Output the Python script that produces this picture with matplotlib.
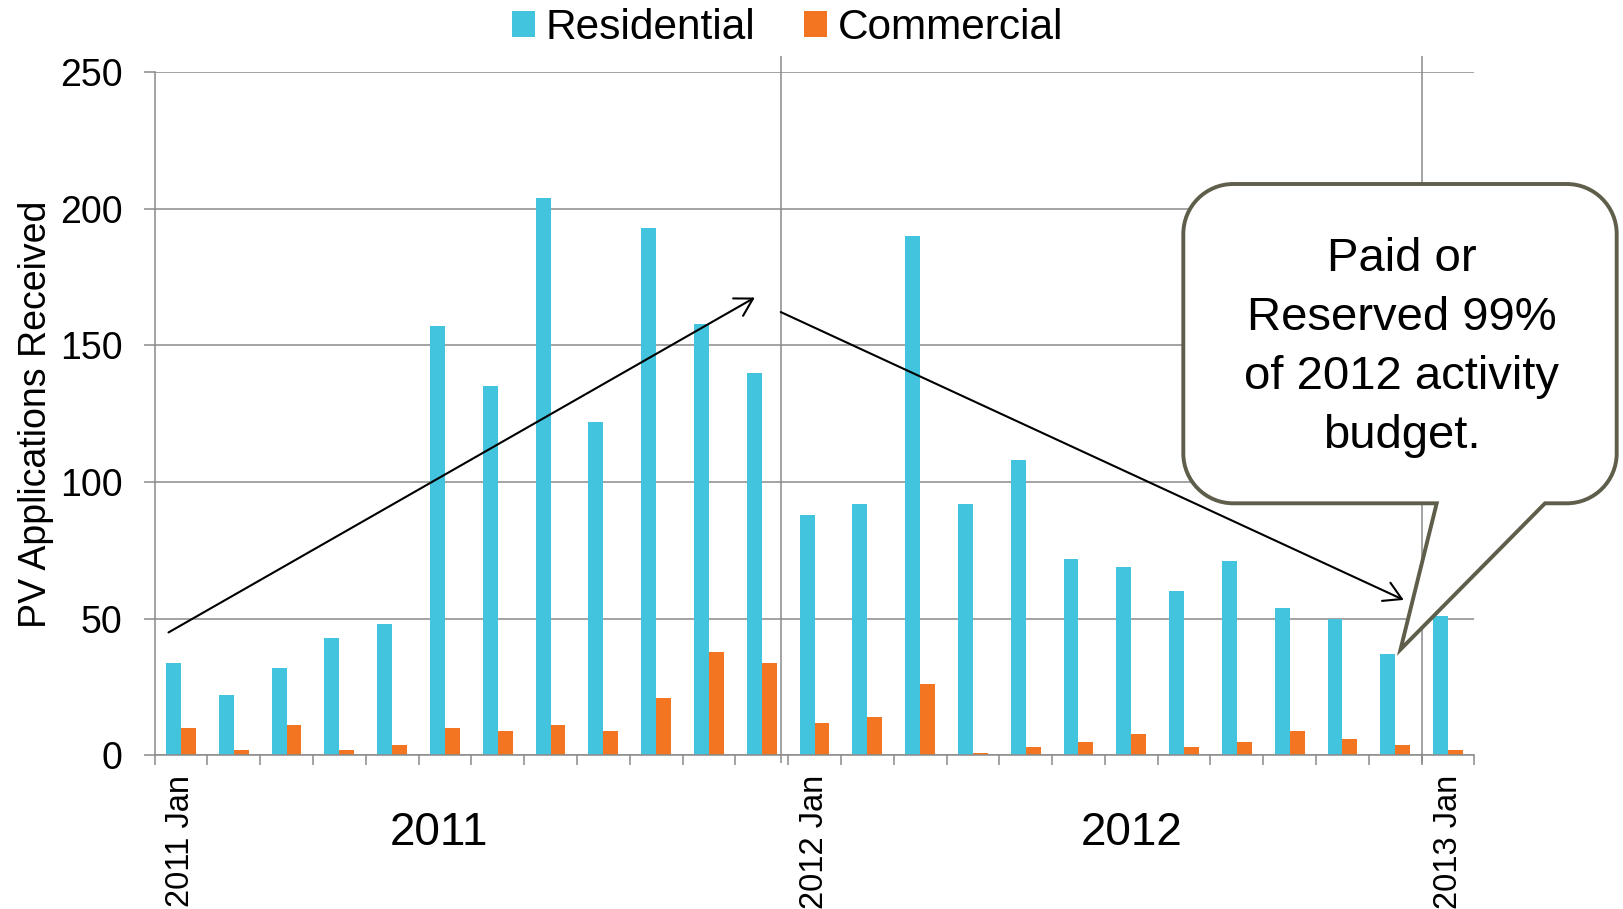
import numpy as np
import matplotlib
matplotlib.use("Agg")
import matplotlib.pyplot as plt
from matplotlib.path import Path
from matplotlib.patches import PathPatch
import matplotlib.transforms as mtransforms

plt.rcParams['font.family'] = ['Liberation Sans', 'DejaVu Sans']

# monthly PV applications, Jan 2011 .. Jan 2013
residential = [34, 22, 32, 43, 48, 157, 135, 204, 122, 193, 158, 140,
               88, 92, 190, 92, 108, 72, 69, 60, 71, 54, 50, 37,
               51]
commercial = [10, 2, 11, 2, 4, 10, 9, 11, 9, 21, 38, 34,
              12, 14, 26, 1, 3, 5, 8, 3, 5, 9, 6, 4,
              2]
jan_labels = ["2011 Jan", "2012 Jan", "2013 Jan"]
jan_index = [0, 12, 24]
year_labels = ["2011", "2012"]
year_pos = [4.88, 18.0]
y_ticks = [0, 50, 100, 150, 200, 250]
callout_text = "Paid or\nReserved 99%\nof 2012 activity\nbudget."

CYAN = "#42c3de"
ORANGE = "#f47521"
GRID = "#8a8a8a"
BUBBLE = "#5f5e4b"

W, H = 1623, 909
fig = plt.figure(figsize=(W / 100, H / 100), dpi=100)
ax = fig.add_axes([0.0952, 0.1689, 0.8133, 0.7519])

x = np.arange(len(residential))
bw = 0.283
ax.bar(x - bw / 2, residential, bw, color=CYAN, label="Residential", zorder=2)
ax.bar(x + bw / 2, commercial, bw, color=ORANGE, label="Commercial", zorder=2)

ax.set_xlim(-0.5, len(residential) - 0.5)
ax.set_ylim(0, 250)
ax.set_yticks(y_ticks)
ax.yaxis.grid(True, color=GRID, lw=1.1)
ax.set_axisbelow(True)

for s in ["top", "right"]:
    ax.spines[s].set_visible(False)
for s in ["left", "bottom"]:
    ax.spines[s].set_color(GRID)
    ax.spines[s].set_linewidth(1.1)

# month boundaries as ticks, Jan labels as minor ticks
ax.set_xticks(np.arange(-0.5, len(residential), 1.0))
ax.set_xticklabels([])
ax.set_xticks(jan_index, jan_labels, minor=True)
ax.tick_params(axis="x", which="major", length=7.5, width=1.1, color=GRID, direction="out")
ax.tick_params(axis="x", which="minor", length=0, pad=14, labelsize=23.5, labelrotation=90)
ax.tick_params(axis="y", length=7.6, width=1.1, color=GRID, pad=15.5, labelsize=27)

# year separators
ax.vlines([11.36, 23.5], -2.9, 255.7, colors=GRID, lw=1.1, clip_on=False, zorder=1)

ax.set_ylabel("PV Applications Received", fontsize=27)
ax.yaxis.set_label_coords(-0.0765, 0.499)

trans = mtransforms.blended_transform_factory(ax.transData, ax.transAxes)
for lab, xp in zip(year_labels, year_pos):
    ax.text(xp, -0.1134, lab, transform=trans, fontsize=33, ha="center", va="center")

# trend arrows
arrow = dict(arrowstyle="->,head_length=0.62,head_width=0.36", lw=1.5, color="black",
             shrinkA=0, shrinkB=0, mutation_scale=20)
ax.annotate("", xy=(10.87, 167.5), xytext=(-0.235, 45.0), arrowprops=arrow)
ax.annotate("", xy=(23.16, 56.9), xytext=(11.36, 162.2), arrowprops=arrow)

fig.legend(loc="center", bbox_to_anchor=(0.4852, 0.969), ncol=2, frameon=False,
           fontsize=30.5, handlelength=0.55, handleheight=0.55, handletextpad=0.25,
           columnspacing=1.15)

# speech bubble (pixel coords, y down)
L, R, T, B, r = 1183.3, 1616.7, 184.0, 503.3, 50.0
k = 0.5523 * r
tip = (1400.5, 649.5)
verts = [
    (L + r, T), (R - r, T),
    (R - r + k, T), (R, T + r - k), (R, T + r),
    (R, B - r),
    (R, B - r + k), (R - r + k, B), (R - r, B),
    (1545.0, B), tip, (1436.7, B),
    (L + r, B),
    (L + r - k, B), (L, B - r + k), (L, B - r),
    (L, T + r),
    (L, T + r - k), (L + r - k, T), (L + r, T),
    (L + r, T),
]
codes = [Path.MOVETO, Path.LINETO,
         Path.CURVE4, Path.CURVE4, Path.CURVE4,
         Path.LINETO,
         Path.CURVE4, Path.CURVE4, Path.CURVE4,
         Path.LINETO, Path.LINETO, Path.LINETO,
         Path.LINETO,
         Path.CURVE4, Path.CURVE4, Path.CURVE4,
         Path.LINETO,
         Path.CURVE4, Path.CURVE4, Path.CURVE4,
         Path.CLOSEPOLY]
verts = [(vx / W, 1 - vy / H) for vx, vy in verts]
bubble = PathPatch(Path(verts, codes), facecolor="white", edgecolor=BUBBLE, lw=2.8,
                   transform=fig.transFigure, zorder=5)
fig.add_artist(bubble)
# baseline of the last line anchors the block
fig.text(1401.7 / W, 1 - 448.3 / H, callout_text, fontsize=34, ha="center", va="baseline",
         multialignment="center", linespacing=1.446, zorder=6)

fig.savefig("out.png", dpi=100)
